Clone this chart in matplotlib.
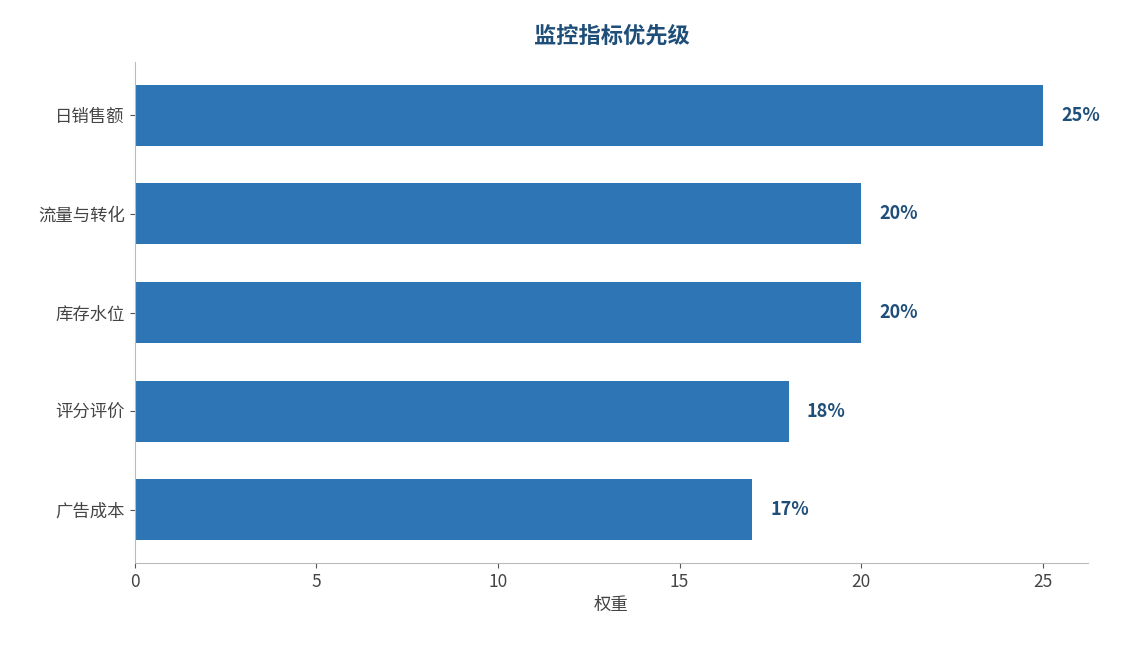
import matplotlib
matplotlib.use("Agg")
import matplotlib.pyplot as plt

plt.rcParams['font.family'] = ['Noto Sans CJK SC', 'DejaVu Sans']

# ── data ──
metrics = ["日销售额", "流量与转化", "库存水位", "评分评价", "广告成本"]
weights = [25, 20, 20, 18, 17]

fig, ax = plt.subplots(figsize=(11.22, 6.45), dpi=100)
fig.subplots_adjust(left=0.12, right=0.97, top=0.904, bottom=0.127)

ypos = list(range(len(metrics)))[::-1]
ax.barh(ypos, weights, height=0.62, color="#2E75B6")
for y, w in zip(ypos, weights):
    ax.text(w + 0.5, y, f"{w}%", va="center", ha="left",
            fontsize=13, fontweight="bold", color="#1F4E79")

ax.set_yticks(ypos)
ax.set_yticklabels(metrics)
ax.set_xticks([0, 5, 10, 15, 20, 25])
ax.tick_params(axis="both", labelsize=12.5, colors="#555555")
for lab in ax.get_xticklabels() + ax.get_yticklabels():
    lab.set_color("#444444")
ax.set_xlabel("权重", fontsize=12.5, color="#444444")
ax.set_title("监控指标优先级", fontsize=16, fontweight="bold", color="#1F4E79", pad=14)

for s in ["top", "right"]:
    ax.spines[s].set_visible(False)
for s in ["left", "bottom"]:
    ax.spines[s].set_color("#BBBBBB")

plt.savefig("out.png", dpi=100)
